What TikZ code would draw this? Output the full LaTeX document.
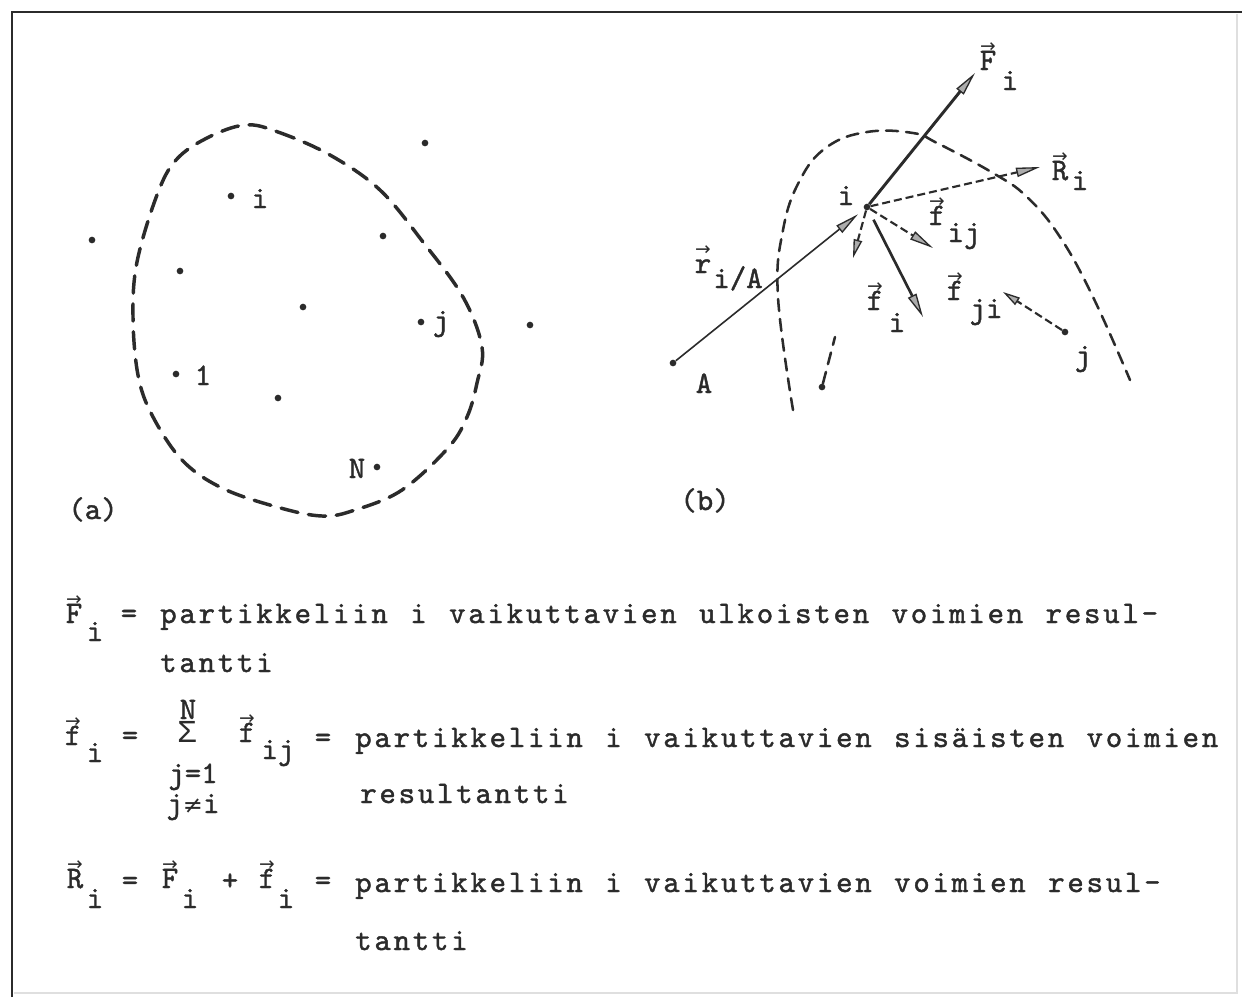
\documentclass[tikz,border=0pt]{standalone}
\usepackage{fontspec}
\usetikzlibrary{arrows.meta}
\newfontfamily\tw{lmmono10-regular.otf}[LetterSpace=8.77,WordSpace=1.167,FakeBold=1.3]
\newfontfamily\tl{lmmono10-regular.otf}[FakeBold=1.3]
\newfontfamily\dv{DejaVu Sans}
\newfontfamily\lm{Liberation Mono}
\definecolor{ink}{HTML}{2B2B2B}
\newcommand\vv[1]{\hbox{\ooalign{#1\cr\hidewidth\smash{\raisebox{0.55em}{\dv\fontsize{14}{14}\selectfont →}}\hidewidth\cr}}}
\begin{document}
\begin{tikzpicture}[x=0.75pt,y=-0.75pt,
  txt/.style={font={\fontsize{23.5}{28}\tw}, text=ink, inner sep=0pt, anchor=base west},
  lbl/.style={font={\fontsize{23.5}{28}\tl}, text=ink, inner sep=0pt, anchor=base},
  dot/.style={circle, fill=ink, inner sep=0pt, minimum size=5pt},
  bnd/.style={ink, line width=2.6pt, dash pattern=on 13pt off 8pt, line cap=round},
  bndb/.style={ink, line width=1.9pt, dash pattern=on 9pt off 6pt, line cap=round},
  vec/.style={ink, line width=1.6pt, -{Triangle[length=18pt,width=7pt,fill=gray!65,line width=1pt]}},
  dvec/.style={vec, dash pattern=on 6pt off 3pt},
  frame/.style={ink, line width=2pt},
]
\useasboundingbox (0,0) rectangle (1242,997);
\fill[white] (0,0) rectangle (1242,997);
% frame
\coordinate (TL) at (12,12);
\coordinate (TR) at (1242,12);
\coordinate (BL) at (12,997);
\draw[frame] (BL) -- (TL) -- (TR);
\draw[gray!25, line width=1.2pt] (1237,14) -- (1237,993) -- (14,993);

% ---------- part (a)
\draw[bnd] plot[smooth cycle, tension=0.6] coordinates {(245,125) (278,132) (330,155) (380,190) (423,242) (463,297) (482,347) (477,383) (467,417) (448,448) (402,490) (355,510) (322,516) (277,507) (222,488) (182,460) (152,415) (138,375) (133,317) (137,262) (157,195) (176,160) (207,138)};
\node[dot] (a1) at (92,240) {};
\node[dot] (a2) at (425,143) {};
\node[dot] (ai) at (231,196) {};
\node[dot] (a4) at (383,236) {};
\node[dot] (a5) at (180,271) {};
\node[dot] (a6) at (303,307) {};
\node[dot] (aj) at (421,322) {};
\node[dot] (a8) at (530,325) {};
\node[dot] (al) at (176,374) {};
\node[dot] (a10) at (278,398) {};
\node[dot] (aN) at (377,467) {};
\node[lbl] (li) at (260,208) {i};
\node[lbl] (lj) at (441,330) {j};
\node[lbl] (l1) at (203,385) {1};
\node[lbl] (lN) at (357,478) {N};
\node[lbl] (la) at (93,519) {(a)};
\node[lbl] (lb) at (705,510) {(b)};

% ---------- part (b)
\draw[bndb] plot[smooth, tension=0.7] coordinates {(793,410) (778,297) (783,230) (800,180) (827,147) (867,132) (913,133) (937,143) (993,173) (1027,197) (1060,237) (1093,297) (1130,380)};
\node[dot] (A) at (673,363) {};
\node[dot] (I) at (867,207) {};
\node[dot] (J) at (1065,332) {};
\node[dot] (K) at (822,387) {};
\coordinate (Ftip) at (975,73);
\coordinate (Rtip) at (1040,167);
\coordinate (fijtip) at (933,248);
\coordinate (dtip) at (853,258);
\coordinate (fitip) at (923,317);
\coordinate (fjitip) at (1003,292);
\coordinate (Ktop) at (835,337);
\draw[vec, line width=1.2pt, shorten >=6pt] (A) -- (I);
\draw[vec, line width=2.2pt] (I) -- (Ftip);
\draw[dvec] (I) -- (Rtip);
\draw[dvec] (I) -- (fijtip);
\draw[dvec, -{Triangle[length=14pt,width=6.5pt,fill=gray!65,line width=1pt]}] (I) -- (dtip);
\draw[vec, line width=2pt, shorten <=8pt] (I) -- (fitip);
\draw[dvec, -{Triangle[length=13pt,width=6.5pt,fill=gray!65,line width=1pt]}] (J) -- (fjitip);
\draw[bndb] (K) -- (Ktop);

\node[lbl] (lA) at (704,393) {A};
\node[lbl] (lI) at (846,205) {i};
\node[lbl] (lJ) at (1083,365) {j};
\node[lbl] (lF) at (988,70) {\vv{F}};
\node[lbl] (lFs) at (1010,90) {i};
\node[lbl] (lR) at (1060,180) {\vv{R}};
\node[lbl] (lRs) at (1080,190) {i};
\node[lbl] (lfij) at (937,225) {\vv{f}};
\node[lbl] (lfijs) at (964,242) {ij};
\node[lbl] (lr) at (703,273) {\vv{r}};
\node[lbl] (lrs) at (738,288) {i/A};
\node[lbl] (lfi) at (875,310) {\vv{f}};
\node[lbl] (lfis) at (897,332) {i};
\node[lbl] (lfji) at (955,300) {\vv{f}};
\node[lbl] (lfjis) at (986,318) {ji};

% ---------- text
% line 1
\node[lbl] (t1a) at (74,623) {\vv{F}};
\node[lbl] (t1b) at (95,641) {i};
\node[lbl] (t1c) at (129,623) {=};
\node[txt] (t1d) at (160,623) {partikkeliin i vaikuttavien ulkoisten voimien resul-};
\node[txt] (t1e) at (160,672) {tantti};
% line 2
\node[lbl] (t2a) at (73,745) {\vv{f}};
\node[lbl] (t2b) at (95,762) {i};
\node[lbl] (t2c) at (130,745) {=};
\node[lbl] (t2N) at (188,719) {N};
\node[lbl, font={\fontsize{24}{24}\lm}] (t2S) at (187,742) {Σ};
\node[lbl] (t2j) at (193,783) {j=1};
\node[lbl] (t2k) at (193,813) {j{\dv\fontsize{18}{18}\selectfont ≠}i};
\node[lbl] (t2f) at (247,742) {\vv{f}};
\node[lbl] (t2fs) at (278,759) {ij};
\node[lbl] (t2e) at (323,747) {=};
\node[txt] (t2g) at (355,747) {partikkeliin i vaikuttavien sisäisten voimien};
\node[txt] (t2h) at (360,803) {resultantti};
% line 3
\node[lbl] (t3a) at (75,888) {\vv{R}};
\node[lbl] (t3b) at (95,908) {i};
\node[lbl] (t3c) at (130,890) {=};
\node[lbl] (t3d) at (170,888) {\vv{F}};
\node[lbl] (t3e) at (190,908) {i};
\node[lbl] (t3f) at (230,890) {+};
\node[lbl] (t3g) at (267,888) {\vv{f}};
\node[lbl] (t3h) at (286,908) {i};
\node[lbl] (t3i) at (323,890) {=};
\node[txt] (t3j) at (355,892) {partikkeliin i vaikuttavien voimien resul-};
\node[txt] (t3k) at (355,950) {tantti};
\end{tikzpicture}
\end{document}
